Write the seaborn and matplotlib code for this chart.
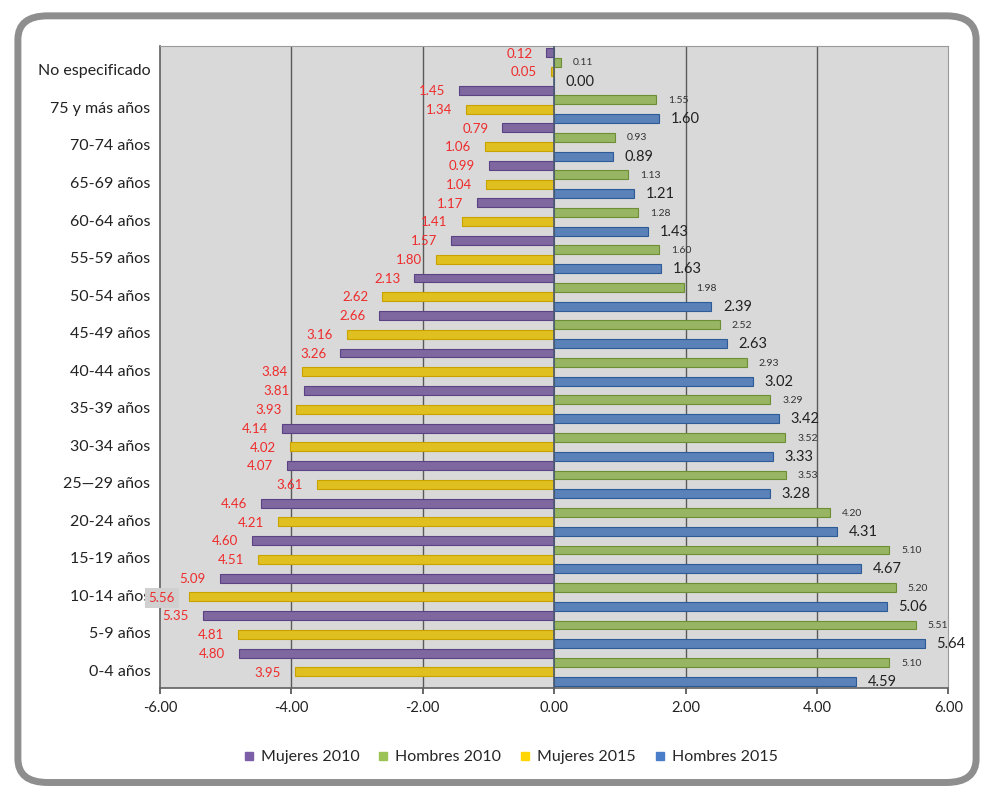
import numpy as np
import pandas as pd
import matplotlib
matplotlib.use("Agg")
import matplotlib.pyplot as plt
from matplotlib.patches import FancyBboxPatch
from matplotlib.transforms import ScaledTranslation
import seaborn as sns

categories = ["No especificado", "75 y más años", "70-74 años", "65-69 años",
              "60-64 años", "55-59 años", "50-54 años", "45-49 años",
              "40-44 años", "35-39 años", "30-34 años", "25\u201429 años",
              "20-24 años", "15-19 años", "10-14 años", "5-9 años", "0-4 años"]

mujeres_2010 = [0.12, 1.45, 0.79, 0.99, 1.17, 1.57, 2.13, 2.66, 3.26, 3.81,
                4.14, 4.07, 4.46, 4.60, 5.09, 5.35, 4.80]
hombres_2010 = [0.11, 1.55, 0.93, 1.13, 1.28, 1.60, 1.98, 2.52, 2.93, 3.29,
                3.52, 3.53, 4.20, 5.10, 5.20, 5.51, 5.10]
mujeres_2015 = [0.05, 1.34, 1.06, 1.04, 1.41, 1.80, 2.62, 3.16, 3.84, 3.93,
                4.02, 3.61, 4.21, 4.51, 5.56, 4.81, 3.95]
hombres_2015 = [0.00, 1.60, 0.89, 1.21, 1.43, 1.63, 2.39, 2.63, 3.02, 3.42,
                3.33, 3.28, 4.31, 4.67, 5.06, 5.64, 4.59]

series_names = ["Mujeres 2010", "Hombres 2010", "Mujeres 2015", "Hombres 2015"]
series_values = [mujeres_2010, hombres_2010, mujeres_2015, hombres_2015]
series_sign = [-1, 1, -1, 1]
xticks = [-6, -4, -2, 0, 2, 4, 6]

colors = {"Mujeres 2010": "#7d5fa8", "Hombres 2010": "#9cc356",
          "Mujeres 2015": "#ffd600", "Hombres 2015": "#4a7ec8"}
edges = {"Mujeres 2010": "#5a4284", "Hombres 2010": "#6c8f33",
         "Mujeres 2015": "#c9a200", "Hombres 2015": "#2d5b97"}

rows = []
for name, vals, sgn in zip(series_names, series_values, series_sign):
    for c, v in zip(categories, vals):
        rows.append({"cat": c, "serie": name, "val": sgn * v})
df = pd.DataFrame(rows)

sns.set_theme(style="white")
plt.rcParams["font.family"] = ["Lato", "DejaVu Sans"]

fig = plt.figure(figsize=(9.94, 7.92), dpi=100)
fig.patch.set_facecolor("white")

# rounded frame
frame = FancyBboxPatch((0.018, 0.012), 0.964, 0.968,
                       boxstyle="round,pad=0,rounding_size=0.03",
                       transform=fig.transFigure, facecolor="none",
                       edgecolor="#8e8e8e", linewidth=5, zorder=-10)
fig.patches.append(frame)

ax = fig.add_axes([0.161, 0.131, 0.793, 0.811])
ax.set_facecolor("#d9d9d9")

sns.barplot(data=df, y="cat", x="val", hue="serie", order=categories,
            hue_order=series_names, palette=colors, orient="h",
            width=1.0, gap=0.05, ax=ax, legend=False, zorder=3)

for patches, name in zip(ax.containers, series_names):
    for p in patches:
        p.set_edgecolor(edges[name])
        p.set_linewidth(0.8)

ax.set_xlim(-6, 6)
ax.set_ylim(len(categories) - 0.44, -0.56)
ax.set_xticks(xticks)
ax.set_xticklabels([f"{t:.2f}" for t in xticks], fontsize=10.5, color="#222222")
ax.tick_params(axis="y", labelsize=11.5, colors="#222222", length=0, pad=7)
ax.tick_params(axis="x", length=4, color="#555555", pad=5, bottom=True)
ax.set_xlabel("")
ax.set_ylabel("")
shift = ScaledTranslation(0, -0.03, fig.dpi_scale_trans)
for lab in ax.get_yticklabels():
    lab.set_transform(lab.get_transform() + shift)

for t in [-4, -2, 2, 4]:
    ax.axvline(t, color="#5a5a5a", lw=1.0, zorder=1)
ax.axvline(0, color="#4a5a70", lw=1.2, zorder=4)

for side in ["top", "right"]:
    ax.spines[side].set_color("#9a9a9a")
    ax.spines[side].set_linewidth(0.8)
for side in ["left", "bottom"]:
    ax.spines[side].set_color("#606060")
    ax.spines[side].set_linewidth(1.2)

# value labels
for patches, name, vals, sgn in zip(ax.containers, series_names, series_values, series_sign):
    for p, v in zip(patches, vals):
        yc = p.get_y() + p.get_height() / 2
        if sgn < 0:
            kw = {}
            if v > 5.5:
                kw["bbox"] = dict(boxstyle="square,pad=0.3", fc="#d0d0d0", ec="none")
            ax.annotate(f"{v:.2f}", xy=(-v, yc), xytext=(-10, -0.5),
                        textcoords="offset points", ha="right", va="center",
                        fontsize=9.5, color="#ee2b2b", zorder=6,
                        annotation_clip=False, **kw)
        elif name == "Hombres 2010":
            ax.annotate(f"{v:.2f}", xy=(v, yc), xytext=(8.5, -0.5),
                        textcoords="offset points", ha="left", va="center",
                        fontsize=7.5, color="#333333", zorder=6,
                        annotation_clip=False)
        else:
            ax.annotate(f"{v:.2f}", xy=(v, yc), xytext=(8.5, -0.5),
                        textcoords="offset points", ha="left", va="center",
                        fontsize=10.5, color="#222222", zorder=6,
                        annotation_clip=False)

handles = [plt.Line2D([], [], marker="s", linestyle="none", markersize=5.5,
                      markerfacecolor=colors[n], markeredgecolor=colors[n])
           for n in series_names]
fig.legend(handles, series_names, loc="center", bbox_to_anchor=(0.514, 0.044),
           ncol=4, frameon=False, fontsize=11.5, handlelength=0.6,
           handletextpad=0.45, columnspacing=1.2)

fig.savefig("out.png", dpi=100)
